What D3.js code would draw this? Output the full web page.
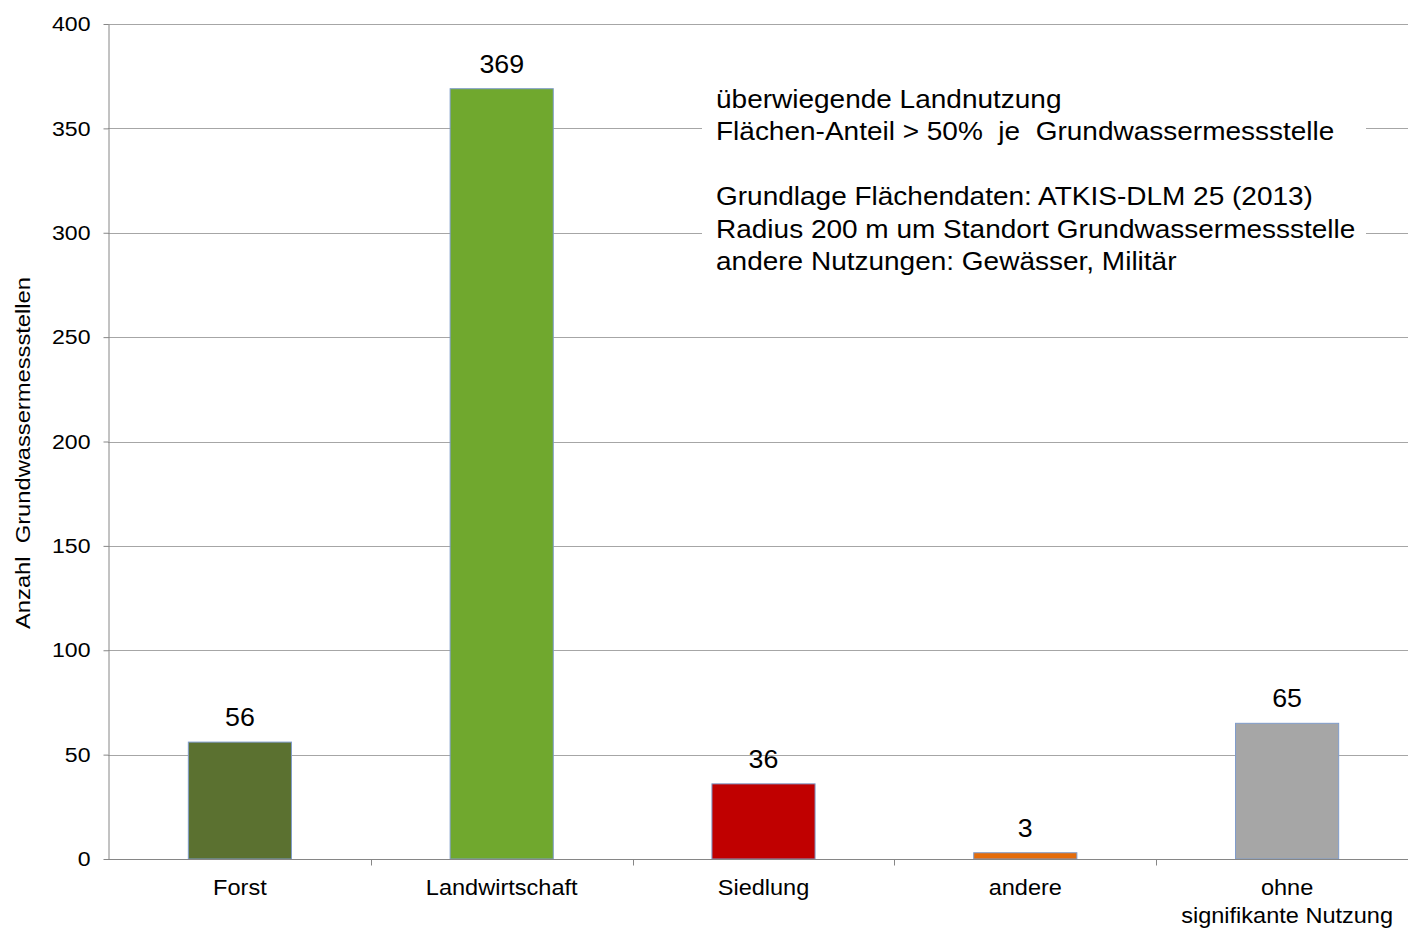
<!DOCTYPE html>
<html><head><meta charset="utf-8">
<script src="https://cdn.jsdelivr.net/npm/d3@7"></script>
<style>body{margin:0;background:#fff;}svg{display:block;font-family:Arial,"Liberation Sans",sans-serif;}text{white-space:pre;}</style>
</head><body>
<svg id="c" width="1408" height="928"></svg>
<script>
const categories = ["Forst","Landwirtschaft","Siedlung","andere","ohne\nsignifikante Nutzung"];
const values = [56,369,36,3,65];
const colors = ["#5b7130","#70a82e","#c00000","#e46c0a","#a6a6a6"];
const yTicks = [0,50,100,150,200,250,300,350,400];
const noteLines = ["überwiegende Landnutzung","Flächen-Anteil > 50%  je  Grundwassermessstelle","","Grundlage Flächendaten: ATKIS-DLM 25 (2013)","Radius 200 m um Standort Grundwassermessstelle","andere Nutzungen: Gewässer, Militär"];
const yTitle = "Anzahl  Grundwassermessstellen";

const svg = d3.select("#c");
const x = d3.scaleBand().domain(categories).range([109,1418]).paddingInner(0.606).paddingOuter(0.303);
const xb = d3.scaleBand().domain(categories).range([109,1418]);
const y = d3.scaleLinear().domain([0,400]).range([859,24]);

// gridlines
svg.append("g").selectAll("line").data(yTicks.filter(d=>d>0)).join("line")
  .attr("x1",108).attr("x2",1418).attr("y1",d=>Math.round(y(d))+0.5).attr("y2",d=>Math.round(y(d))+0.5)
  .attr("stroke","#a6a6a6").attr("stroke-width",1);

// note box
const note = svg.append("g");
note.append("rect").attr("x",702).attr("y",78).attr("width",664).attr("height",204).attr("fill","#fff");
const lineY = [99,131,164,196,229,261];
note.selectAll("text").data(noteLines).join("text")
  .attr("transform",(d,i)=>`translate(716,${lineY[i]+9}) scale(1.12,1)`)
  .attr("font-size",25).attr("fill","#000").text(d=>d);

// bars
svg.append("g").selectAll("rect").data(values).join("rect")
  .attr("x",(d,i)=>x(categories[i])).attr("width",x.bandwidth())
  .attr("y",d=>y(d)).attr("height",d=>y(0)-y(d))
  .attr("fill",(d,i)=>colors[i]).attr("stroke","#7f9ccb").attr("stroke-width",1);

// value labels
svg.append("g").selectAll("text").data(values).join("text")
  .attr("transform",(d,i)=>`translate(${x(categories[i])+x.bandwidth()/2},${y(d)-16}) scale(1.03,1)`)
  .attr("text-anchor","middle").attr("font-size",26).attr("fill","#000").text(d=>d);

// y axis
const ya = svg.append("g").attr("transform","translate(108.5,0)")
  .call(d3.axisLeft(y).tickValues(yTicks).tickSize(5).tickPadding(13).tickSizeOuter(0));
ya.select(".domain").attr("stroke","#868686");
ya.selectAll(".tick line").attr("stroke","#868686");
ya.selectAll(".tick text").attr("font-size",21).attr("fill","#000").attr("font-family","Arial,'Liberation Sans',sans-serif")
  .attr("x",null).attr("transform","translate(-18,0) scale(1.1,1)");

// x axis
const xa = svg.append("g").attr("transform","translate(0,859.5)");
xa.append("line").attr("x1",108).attr("x2",1418).attr("stroke","#868686");
xa.selectAll("line.t").data(categories.slice(1)).join("line").attr("class","t")
  .attr("x1",d=>Math.round(xb(d))+0.5).attr("x2",d=>Math.round(xb(d))+0.5).attr("y1",0).attr("y2",6).attr("stroke","#868686");
xa.selectAll("text").data(categories).join("text")
  .attr("text-anchor","middle").attr("font-size",22).attr("fill","#000")
  .attr("transform",d=>`translate(${xb(d)+xb.bandwidth()/2},0) scale(1.07,1)`)
  .each(function(d){
    const parts=d.split("\n");
    d3.select(this).selectAll("tspan").data(parts).join("tspan")
      .attr("x",0).attr("y",(p,i)=>36+i*28).text(p=>p);
  });

// y title
svg.append("text").attr("transform","translate(30,453) rotate(-90) scale(1.13,1)").attr("text-anchor","middle")
  .attr("font-size",21).attr("fill","#000").text(yTitle);
</script>
</body></html>
